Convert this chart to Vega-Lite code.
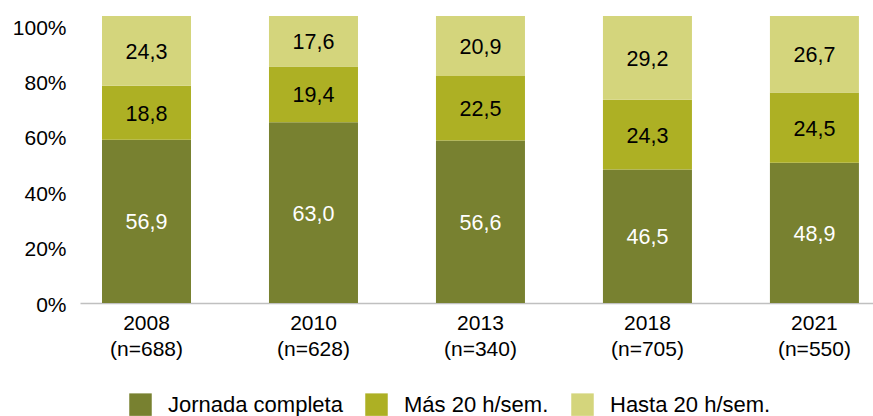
{
  "$schema": "https://vega.github.io/schema/vega-lite/v6.json",
  "width": 793,
  "height": 287,
  "autosize": {"type": "none"},
  "padding": {"left": 80, "top": 16, "right": 0, "bottom": 113},
  "background": "white",
  "config": {
    "locale": {"number": {"decimal": ",", "thousands": ".", "grouping": [3], "currency": ["", " €"]}},
    "view": {"stroke": null},
    "font": "Liberation Sans",
    "axis": {"labelFont": "Liberation Sans", "labelColor": "#000000", "labelFontSize": 21, "grid": false, "ticks": false, "title": null},
    "legend": {"labelFont": "Liberation Sans", "labelFontSize": 22, "labelColor": "#000000", "labelLimit": 400}
  },
  "data": {
    "values": [
      {"year": "2008|(n=688)", "serie": "Jornada completa", "o": 1, "value": 56.9},
      {"year": "2008|(n=688)", "serie": "Más 20 h/sem.", "o": 2, "value": 18.8},
      {"year": "2008|(n=688)", "serie": "Hasta 20 h/sem.", "o": 3, "value": 24.3},
      {"year": "2010|(n=628)", "serie": "Jornada completa", "o": 1, "value": 63.0},
      {"year": "2010|(n=628)", "serie": "Más 20 h/sem.", "o": 2, "value": 19.4},
      {"year": "2010|(n=628)", "serie": "Hasta 20 h/sem.", "o": 3, "value": 17.6},
      {"year": "2013|(n=340)", "serie": "Jornada completa", "o": 1, "value": 56.6},
      {"year": "2013|(n=340)", "serie": "Más 20 h/sem.", "o": 2, "value": 22.5},
      {"year": "2013|(n=340)", "serie": "Hasta 20 h/sem.", "o": 3, "value": 20.9},
      {"year": "2018|(n=705)", "serie": "Jornada completa", "o": 1, "value": 46.5},
      {"year": "2018|(n=705)", "serie": "Más 20 h/sem.", "o": 2, "value": 24.3},
      {"year": "2018|(n=705)", "serie": "Hasta 20 h/sem.", "o": 3, "value": 29.2},
      {"year": "2021|(n=550)", "serie": "Jornada completa", "o": 1, "value": 48.9},
      {"year": "2021|(n=550)", "serie": "Más 20 h/sem.", "o": 2, "value": 24.5},
      {"year": "2021|(n=550)", "serie": "Hasta 20 h/sem.", "o": 3, "value": 26.7}
    ]
  },
  "encoding": {
    "x": {
      "field": "year", "type": "nominal", "sort": null,
      "scale": {"paddingInner": 0.467, "paddingOuter": 0.108, "align": 0.61},
      "axis": {
        "labelAngle": 0,
        "labelExpr": "split(datum.label, '|')",
        "labelLineHeight": 26,
        "labelPadding": 9,
        "domainColor": "#c0c0c0",
        "domainWidth": 1.5
      }
    }
  },
  "layer": [
    {
      "mark": {"type": "rule", "opacity": 0},
      "encoding": {
        "y": {
          "field": "value", "type": "quantitative",
          "scale": {"domain": [-0.36, 103.36], "nice": false, "zero": false},
          "axis": {
            "orient": "left",
            "values": [0, 20, 40, 60, 80, 100],
            "labelExpr": "datum.value + '%'",
            "domain": false,
            "labelPadding": 14,
            "labelOffset": 3
          }
        }
      }
    },
    {
      "mark": {"type": "bar"},
      "encoding": {
        "y": {"field": "value", "type": "quantitative", "stack": "normalize", "scale": {"domain": [0, 1], "nice": false}, "axis": null},
        "order": {"field": "o", "type": "quantitative"},
        "color": {
          "field": "serie", "type": "nominal",
          "sort": ["Jornada completa", "Más 20 h/sem.", "Hasta 20 h/sem."],
          "scale": {"domain": ["Jornada completa", "Más 20 h/sem.", "Hasta 20 h/sem."], "range": ["#788130", "#adb024", "#d4d57c"]},
          "legend": {
            "title": null,
            "orient": "none",
            "direction": "horizontal",
            "legendX": 49,
            "legendY": 377,
            "symbolType": "square",
            "symbolSize": 506,
            "symbolStrokeWidth": 0,
            "symbolOpacity": 1,
            "labelOffset": 16,
            "columnPadding": 22,
            "labelLimit": 400,
            "padding": 0
          }
        }
      }
    },
    {
      "transform": [
        {"stack": "value", "groupby": ["year"], "sort": [{"field": "o", "order": "ascending"}], "offset": "normalize", "as": ["y0", "y1"]},
        {"calculate": "(datum.y0 + datum.y1) / 2", "as": "mid"}
      ],
      "mark": {"type": "text", "fontSize": 21.5, "font": "Liberation Sans", "baseline": "middle", "align": "center", "dy": 2},
      "encoding": {
        "y": {"field": "mid", "type": "quantitative", "scale": {"domain": [0, 1], "nice": false}, "axis": null},
        "text": {"field": "value", "type": "quantitative", "format": ".1f"},
        "color": {
          "condition": {"test": "datum.serie === 'Jornada completa'", "value": "#ffffff"},
          "value": "#000000"
        }
      }
    }
  ],
  "resolve": {"scale": {"y": "independent", "color": "independent"}}
}
